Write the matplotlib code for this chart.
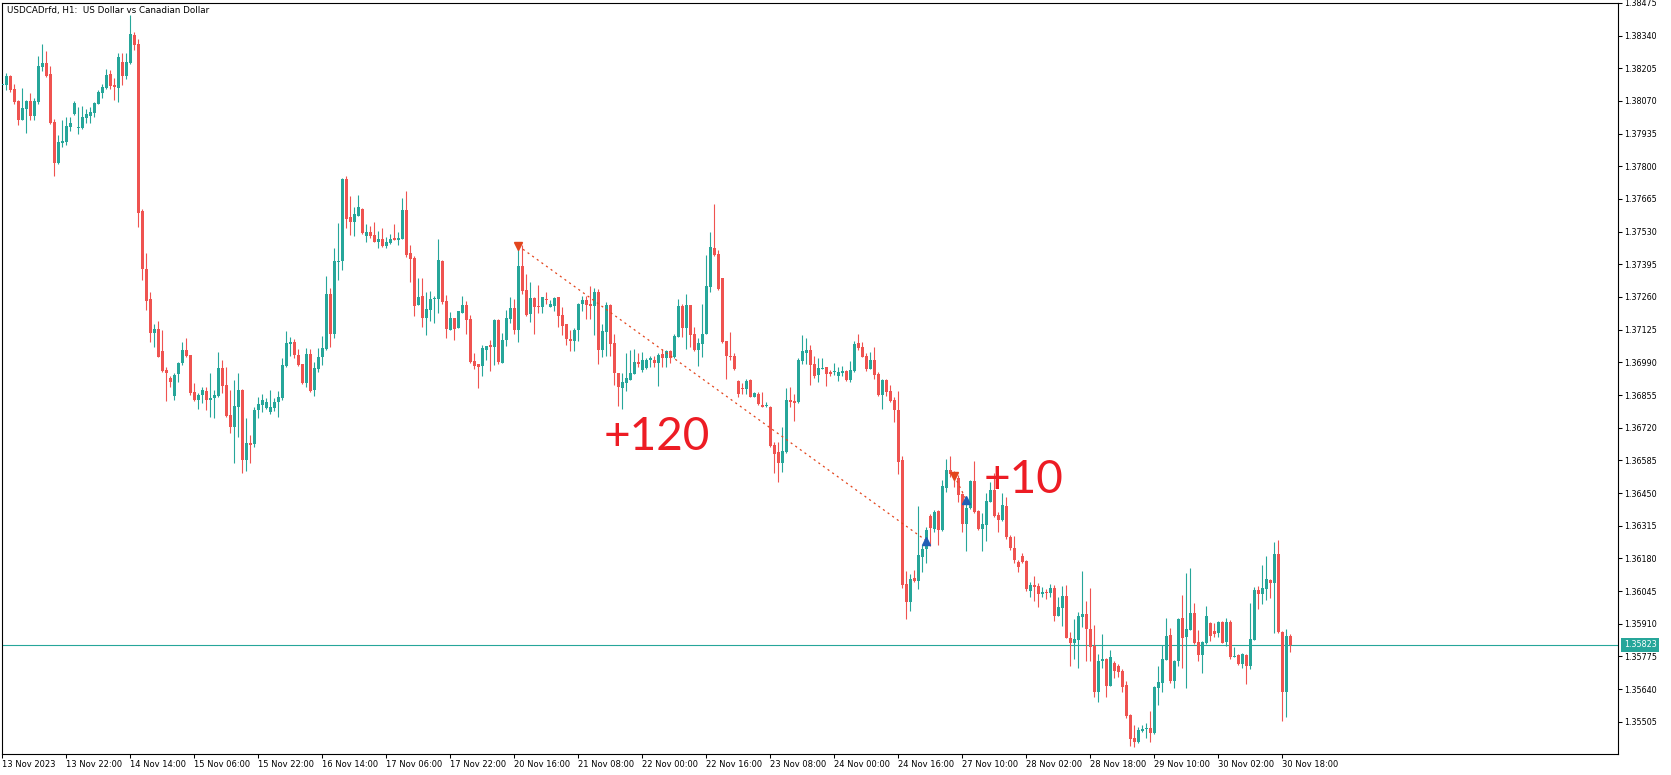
import numpy as np
import matplotlib
matplotlib.use("Agg")
import matplotlib.pyplot as plt
import matplotlib.transforms as mtransforms

plt.rcParams['font.family'] = ['DejaVu Sans']
plt.rcParams['lines.scale_dashes'] = False

title = "USDCADrfd, H1:  US Dollar vs Canadian Dollar"

# hourly OHLC, 13 Nov 06:00 .. 30 Nov 20:00
opens = [
    1.38136, 1.38135, 1.38175, 1.38119, 1.38069, 1.37992, 1.38037, 1.38069, 1.38008, 1.38066,
    1.38212, 1.38226, 1.38181, 1.37982, 1.37812, 1.37897, 1.37900, 1.37963, 1.38015, 1.37957,
    1.37959, 1.38000, 1.38008, 1.38019, 1.38059, 1.38102, 1.38124, 1.38181, 1.38135, 1.38124,
    1.38230, 1.38174, 1.38227, 1.38343, 1.38306, 1.37615, 1.37374, 1.37250, 1.37113, 1.37127,
    1.37036, 1.36958, 1.36926, 1.36852, 1.36941, 1.36987, 1.37040, 1.37020, 1.36866, 1.36834,
    1.36857, 1.36873, 1.36834, 1.36841, 1.36852, 1.36965, 1.36896, 1.36772, 1.36724, 1.36806,
    1.36875, 1.36586, 1.36655, 1.36652, 1.36793, 1.36813, 1.36802, 1.36786, 1.36802, 1.36827,
    1.36844, 1.36976, 1.37067, 1.37073, 1.37020, 1.36983, 1.36905, 1.37024, 1.36875, 1.36962,
    1.37010, 1.37046, 1.37274, 1.37108, 1.37405, 1.37409, 1.37747, 1.37590, 1.37571, 1.37595,
    1.37623, 1.37513, 1.37528, 1.37515, 1.37488, 1.37499, 1.37471, 1.37485, 1.37503, 1.37496,
    1.37500, 1.37619, 1.37440, 1.37420, 1.37228, 1.37263, 1.37174, 1.37207, 1.37250, 1.37252,
    1.37408, 1.37243, 1.37124, 1.37173, 1.37133, 1.37195, 1.37226, 1.37168, 1.36995, 1.36983,
    1.36976, 1.37042, 1.37061, 1.37054, 1.37164, 1.36989, 1.37082, 1.37170, 1.37214, 1.37124,
    1.37387, 1.37288, 1.37189, 1.37257, 1.37222, 1.37217, 1.37248, 1.37219, 1.37224, 1.37259,
    1.37185, 1.37148, 1.37087, 1.37079, 1.37124, 1.37229, 1.37247, 1.37229, 1.37224, 1.37280,
    1.37040, 1.37116, 1.37226, 1.37068, 1.36945, 1.36883, 1.36904, 1.36919, 1.36943, 1.36991,
    1.36958, 1.36965, 1.36999, 1.36999, 1.36988, 1.37024, 1.37007, 1.37036, 1.37013, 1.37094,
    1.37222, 1.37133, 1.37226, 1.37109, 1.37042, 1.37067, 1.37109, 1.37302, 1.37463, 1.37437,
    1.37338, 1.37078, 1.37017, 1.37017, 1.36914, 1.36881, 1.36878, 1.36917, 1.36848, 1.36861,
    1.36813, 1.36808, 1.36806, 1.36648, 1.36619, 1.36575, 1.36620, 1.36834, 1.36830, 1.36827,
    1.36996, 1.37029, 1.37040, 1.36983, 1.36936, 1.36963, 1.36969, 1.36951, 1.36948, 1.36934,
    1.36947, 1.36954, 1.36919, 1.36955, 1.37068, 1.37054, 1.37018, 1.36963, 1.36999, 1.36941,
    1.36855, 1.36917, 1.36871, 1.36834, 1.36795, 1.36586, 1.36074, 1.35999, 1.36100, 1.36086,
    1.36187, 1.36217, 1.36355, 1.36300, 1.36375, 1.36297, 1.36472, 1.36545, 1.36528, 1.36510,
    1.36446, 1.36322, 1.36389, 1.36499, 1.36375, 1.36302, 1.36319, 1.36414, 1.36462, 1.36359,
    1.36338, 1.36397, 1.36269, 1.36224, 1.36166, 1.36190, 1.36170, 1.36046, 1.36070, 1.36066,
    1.36031, 1.36041, 1.36038, 1.36057, 1.35943, 1.35976, 1.36024, 1.35852, 1.35831, 1.35844,
    1.35936, 1.35950, 1.35889, 1.35819, 1.35629, 1.35757, 1.35764, 1.35654, 1.35746, 1.35735,
    1.35716, 1.35657, 1.35533, 1.35439, 1.35423, 1.35468, 1.35474, 1.35480, 1.35457, 1.35646,
    1.35666, 1.35761, 1.35863, 1.35675, 1.35757, 1.35932, 1.35856, 1.35885, 1.35954, 1.35834,
    1.35781, 1.35830, 1.35911, 1.35881, 1.35870, 1.35917, 1.35834, 1.35918, 1.35774, 1.35781,
    1.35743, 1.35781, 1.35735, 1.35843, 1.36049, 1.36031, 1.36055, 1.36090, 1.36079, 1.36198,
    1.35877, 1.35629, 1.35859,
]
highs = [
    1.38142, 1.38186, 1.38178, 1.38138, 1.38073, 1.38123, 1.38072, 1.38101, 1.38084, 1.38255,
    1.38306, 1.38276, 1.38215, 1.37996, 1.37929, 1.37993, 1.38002, 1.38003, 1.38070, 1.38044,
    1.38048, 1.38035, 1.38044, 1.38065, 1.38114, 1.38142, 1.38204, 1.38197, 1.38165, 1.38270,
    1.38269, 1.38270, 1.38426, 1.38354, 1.38324, 1.37623, 1.37440, 1.37279, 1.37148, 1.37160,
    1.37123, 1.36972, 1.36933, 1.36944, 1.36992, 1.37073, 1.37089, 1.37022, 1.36906, 1.36862,
    1.36889, 1.36886, 1.36944, 1.36875, 1.37034, 1.36999, 1.36972, 1.36875, 1.36917, 1.36944,
    1.36878, 1.36758, 1.36689, 1.36804, 1.36848, 1.36861, 1.36841, 1.36875, 1.36844, 1.36871,
    1.37006, 1.37119, 1.37095, 1.37086, 1.37045, 1.36985, 1.37050, 1.37045, 1.36992, 1.37051,
    1.37098, 1.37346, 1.37297, 1.37462, 1.37566, 1.37751, 1.37759, 1.37678, 1.37632, 1.37681,
    1.37626, 1.37561, 1.37553, 1.37569, 1.37533, 1.37543, 1.37507, 1.37520, 1.37561, 1.37528,
    1.37668, 1.37697, 1.37474, 1.37431, 1.37339, 1.37339, 1.37280, 1.37284, 1.37266, 1.37499,
    1.37412, 1.37268, 1.37197, 1.37175, 1.37203, 1.37263, 1.37243, 1.37185, 1.37029, 1.36985,
    1.37061, 1.37057, 1.37082, 1.37168, 1.37170, 1.37111, 1.37206, 1.37259, 1.37251, 1.37470,
    1.37474, 1.37357, 1.37320, 1.37258, 1.37309, 1.37261, 1.37279, 1.37247, 1.37261, 1.37261,
    1.37219, 1.37150, 1.37123, 1.37131, 1.37237, 1.37263, 1.37263, 1.37305, 1.37297, 1.37294,
    1.37149, 1.37239, 1.37233, 1.37109, 1.36947, 1.36947, 1.37027, 1.37040, 1.37045, 1.37027,
    1.37034, 1.37006, 1.37017, 1.37017, 1.37027, 1.37045, 1.37043, 1.37040, 1.37109, 1.37250,
    1.37233, 1.37272, 1.37228, 1.37134, 1.37089, 1.37233, 1.37433, 1.37528, 1.37644, 1.37453,
    1.37340, 1.37080, 1.37115, 1.37027, 1.36917, 1.36906, 1.36922, 1.36923, 1.36866, 1.36866,
    1.36868, 1.36827, 1.36809, 1.36662, 1.36659, 1.36724, 1.36882, 1.36889, 1.36861, 1.37006,
    1.37102, 1.37089, 1.37061, 1.37016, 1.37006, 1.37009, 1.36972, 1.36958, 1.36988, 1.36972,
    1.36974, 1.36958, 1.36996, 1.37079, 1.37107, 1.37075, 1.37027, 1.37034, 1.37054, 1.36951,
    1.36923, 1.36923, 1.36896, 1.36848, 1.36872, 1.36603, 1.36129, 1.36115, 1.36132, 1.36396,
    1.36234, 1.36311, 1.36362, 1.36380, 1.36380, 1.36503, 1.36589, 1.36603, 1.36541, 1.36524,
    1.36451, 1.36435, 1.36503, 1.36583, 1.36378, 1.36366, 1.36448, 1.36495, 1.36531, 1.36373,
    1.36448, 1.36435, 1.36276, 1.36272, 1.36173, 1.36203, 1.36173, 1.36083, 1.36107, 1.36077,
    1.36063, 1.36052, 1.36074, 1.36068, 1.36022, 1.36067, 1.36070, 1.35877, 1.35928, 1.35960,
    1.36128, 1.36002, 1.36057, 1.35904, 1.35783, 1.35867, 1.35767, 1.35801, 1.35757, 1.35743,
    1.35721, 1.35675, 1.35535, 1.35491, 1.35482, 1.35491, 1.35498, 1.35551, 1.35652, 1.35735,
    1.35822, 1.35932, 1.35893, 1.35760, 1.35932, 1.36028, 1.36118, 1.36140, 1.35994, 1.35885,
    1.35838, 1.35983, 1.35918, 1.35914, 1.35921, 1.35921, 1.35932, 1.35925, 1.35815, 1.35783,
    1.35787, 1.35783, 1.35997, 1.36063, 1.36067, 1.36152, 1.36189, 1.36093, 1.36247, 1.36256,
    1.35881, 1.35888, 1.35867,
]
lows = [
    1.38134, 1.38114, 1.38105, 1.38058, 1.37970, 1.37990, 1.37938, 1.37993, 1.37993, 1.38058,
    1.38192, 1.38171, 1.37974, 1.37761, 1.37809, 1.37879, 1.37886, 1.37946, 1.38012, 1.37933,
    1.37956, 1.37980, 1.37980, 1.38002, 1.38057, 1.38081, 1.38120, 1.38120, 1.38076, 1.38066,
    1.38134, 1.38160, 1.38222, 1.38280, 1.37548, 1.37330, 1.37208, 1.37076, 1.37054, 1.37010,
    1.36948, 1.36830, 1.36889, 1.36834, 1.36910, 1.36978, 1.37013, 1.36855, 1.36830, 1.36798,
    1.36820, 1.36795, 1.36765, 1.36758, 1.36848, 1.36862, 1.36765, 1.36696, 1.36575, 1.36683,
    1.36534, 1.36542, 1.36572, 1.36641, 1.36758, 1.36786, 1.36799, 1.36776, 1.36790, 1.36765,
    1.36834, 1.36972, 1.37017, 1.37009, 1.36976, 1.36900, 1.36889, 1.36868, 1.36852, 1.36950,
    1.36980, 1.37040, 1.37054, 1.37091, 1.37330, 1.37372, 1.37546, 1.37517, 1.37513, 1.37593,
    1.37520, 1.37488, 1.37504, 1.37487, 1.37463, 1.37465, 1.37463, 1.37481, 1.37495, 1.37476,
    1.37498, 1.37426, 1.37323, 1.37182, 1.37225, 1.37137, 1.37104, 1.37162, 1.37153, 1.37195,
    1.37229, 1.37091, 1.37122, 1.37083, 1.37131, 1.37192, 1.37105, 1.36989, 1.36962, 1.36885,
    1.36934, 1.36999, 1.36955, 1.36980, 1.36984, 1.36987, 1.37058, 1.37151, 1.37105, 1.37075,
    1.37272, 1.37181, 1.37156, 1.37107, 1.37192, 1.37192, 1.37233, 1.37217, 1.37203, 1.37137,
    1.37102, 1.37061, 1.37038, 1.37038, 1.37079, 1.37203, 1.37167, 1.37167, 1.37102, 1.36984,
    1.37013, 1.37018, 1.37016, 1.36896, 1.36809, 1.36798, 1.36872, 1.36917, 1.36940, 1.36972,
    1.36951, 1.36961, 1.36972, 1.36970, 1.36893, 1.36972, 1.36972, 1.36988, 1.37009, 1.37093,
    1.37096, 1.37047, 1.37054, 1.37036, 1.36976, 1.37013, 1.37107, 1.37281, 1.37430, 1.37288,
    1.37071, 1.36923, 1.36999, 1.36958, 1.36848, 1.36861, 1.36861, 1.36846, 1.36846, 1.36813,
    1.36804, 1.36805, 1.36641, 1.36534, 1.36497, 1.36538, 1.36614, 1.36804, 1.36749, 1.36824,
    1.36983, 1.36985, 1.36896, 1.36926, 1.36910, 1.36962, 1.36892, 1.36933, 1.36937, 1.36912,
    1.36932, 1.36912, 1.36908, 1.36951, 1.37043, 1.37010, 1.36955, 1.36962, 1.36923, 1.36850,
    1.36797, 1.36850, 1.36827, 1.36744, 1.36528, 1.36056, 1.35928, 1.35962, 1.36083, 1.36055,
    1.36122, 1.36162, 1.36231, 1.36289, 1.36234, 1.36295, 1.36455, 1.36517, 1.36476, 1.36414,
    1.36289, 1.36212, 1.36382, 1.36369, 1.36296, 1.36212, 1.36253, 1.36411, 1.36352, 1.36287,
    1.36334, 1.36262, 1.36214, 1.36159, 1.36125, 1.36162, 1.36046, 1.36022, 1.36005, 1.35980,
    1.36019, 1.36010, 1.36022, 1.35921, 1.35942, 1.35900, 1.35851, 1.35735, 1.35764, 1.35727,
    1.35898, 1.35757, 1.35757, 1.35608, 1.35588, 1.35728, 1.35606, 1.35652, 1.35687, 1.35691,
    1.35629, 1.35522, 1.35406, 1.35402, 1.35418, 1.35464, 1.35436, 1.35423, 1.35454, 1.35574,
    1.35629, 1.35760, 1.35666, 1.35646, 1.35735, 1.35725, 1.35646, 1.35884, 1.35826, 1.35757,
    1.35705, 1.35826, 1.35838, 1.35853, 1.35853, 1.35829, 1.35818, 1.35765, 1.35771, 1.35739,
    1.35728, 1.35661, 1.35724, 1.35843, 1.35971, 1.35991, 1.36008, 1.36015, 1.35873, 1.35873,
    1.35508, 1.35526, 1.35793,
]
closes = [
    1.38139, 1.38175, 1.38114, 1.38066, 1.37992, 1.38040, 1.38069, 1.38008, 1.38070, 1.38214,
    1.38227, 1.38174, 1.37980, 1.37814, 1.37900, 1.37904, 1.37966, 1.37978, 1.38061, 1.37963,
    1.38004, 1.38015, 1.38025, 1.38061, 1.38106, 1.38127, 1.38176, 1.38131, 1.38128, 1.38251,
    1.38174, 1.38230, 1.38346, 1.38303, 1.37609, 1.37374, 1.37244, 1.37113, 1.37127, 1.37013,
    1.36955, 1.36947, 1.36910, 1.36937, 1.36987, 1.37040, 1.37017, 1.36864, 1.36834, 1.36855,
    1.36875, 1.36834, 1.36844, 1.36855, 1.36965, 1.36893, 1.36769, 1.36724, 1.36809, 1.36875,
    1.36586, 1.36655, 1.36648, 1.36795, 1.36816, 1.36834, 1.36828, 1.36805, 1.36828, 1.36846,
    1.36978, 1.37069, 1.37075, 1.37020, 1.36980, 1.36905, 1.37024, 1.36872, 1.36965, 1.37012,
    1.37049, 1.37274, 1.37109, 1.37408, 1.37408, 1.37747, 1.37583, 1.37571, 1.37602, 1.37631,
    1.37525, 1.37528, 1.37511, 1.37488, 1.37499, 1.37470, 1.37487, 1.37499, 1.37496, 1.37504,
    1.37619, 1.37434, 1.37418, 1.37224, 1.37259, 1.37174, 1.37210, 1.37251, 1.37255, 1.37412,
    1.37240, 1.37129, 1.37173, 1.37129, 1.37202, 1.37228, 1.37164, 1.36992, 1.36976, 1.36972,
    1.37049, 1.37056, 1.37054, 1.37164, 1.36991, 1.37084, 1.37174, 1.37214, 1.37124, 1.37387,
    1.37286, 1.37185, 1.37254, 1.37219, 1.37217, 1.37259, 1.37246, 1.37230, 1.37257, 1.37182,
    1.37140, 1.37087, 1.37079, 1.37124, 1.37230, 1.37247, 1.37228, 1.37224, 1.37281, 1.37040,
    1.37119, 1.37226, 1.37065, 1.36945, 1.36889, 1.36908, 1.36926, 1.36945, 1.36991, 1.36985,
    1.37001, 1.36999, 1.37007, 1.36988, 1.37020, 1.37007, 1.37035, 1.37009, 1.37098, 1.37222,
    1.37133, 1.37226, 1.37104, 1.37040, 1.37069, 1.37109, 1.37305, 1.37465, 1.37433, 1.37292,
    1.37075, 1.37017, 1.37014, 1.36962, 1.36860, 1.36878, 1.36914, 1.36848, 1.36864, 1.36816,
    1.36805, 1.36810, 1.36645, 1.36611, 1.36575, 1.36623, 1.36834, 1.36826, 1.36824, 1.36999,
    1.37035, 1.37040, 1.36981, 1.36933, 1.36965, 1.36965, 1.36941, 1.36940, 1.36954, 1.36950,
    1.36954, 1.36917, 1.36958, 1.37065, 1.37050, 1.37013, 1.36963, 1.36999, 1.36937, 1.36855,
    1.36917, 1.36868, 1.36831, 1.36793, 1.36579, 1.36070, 1.35999, 1.36094, 1.36086, 1.36194,
    1.36217, 1.36297, 1.36304, 1.36373, 1.36297, 1.36479, 1.36545, 1.36528, 1.36506, 1.36441,
    1.36322, 1.36389, 1.36499, 1.36370, 1.36300, 1.36322, 1.36417, 1.36462, 1.36355, 1.36338,
    1.36400, 1.36267, 1.36221, 1.36173, 1.36143, 1.36166, 1.36052, 1.36070, 1.36063, 1.36031,
    1.36041, 1.36035, 1.36056, 1.35943, 1.35977, 1.36024, 1.35852, 1.35831, 1.35847, 1.35942,
    1.35950, 1.35889, 1.35815, 1.35629, 1.35756, 1.35764, 1.35654, 1.35772, 1.35716, 1.35712,
    1.35650, 1.35529, 1.35435, 1.35423, 1.35471, 1.35474, 1.35475, 1.35457, 1.35650, 1.35668,
    1.35764, 1.35859, 1.35675, 1.35757, 1.35929, 1.35852, 1.35888, 1.35954, 1.35829, 1.35781,
    1.35834, 1.35942, 1.35860, 1.35867, 1.35917, 1.35831, 1.35918, 1.35771, 1.35776, 1.35743,
    1.35785, 1.35735, 1.35845, 1.36049, 1.36031, 1.36057, 1.36093, 1.36079, 1.36198, 1.35877,
    1.35629, 1.35859, 1.35823,
]

time_labels = [
    "13 Nov 2023", "13 Nov 22:00", "14 Nov 14:00", "15 Nov 06:00", "15 Nov 22:00",
    "16 Nov 14:00", "17 Nov 06:00", "17 Nov 22:00", "20 Nov 16:00", "21 Nov 08:00",
    "22 Nov 00:00", "22 Nov 16:00", "23 Nov 08:00", "24 Nov 00:00", "24 Nov 16:00",
    "27 Nov 10:00", "28 Nov 02:00", "28 Nov 18:00", "29 Nov 10:00", "30 Nov 02:00",
    "30 Nov 18:00",
]
bars_per_label = 16

price_ticks = [
    1.35505, 1.35640, 1.35775, 1.35910, 1.36045, 1.36180, 1.36315, 1.36450,
    1.36585, 1.36720, 1.36855, 1.36990, 1.37125, 1.37260, 1.37395, 1.37530,
    1.37665, 1.37800, 1.37935, 1.38070, 1.38205, 1.38340, 1.38475,
]
bid = 1.35823

# two short trades: sell entry -> buy close
sell_bars = [129, 238]
sell_prices = [1.37471, 1.36521]
exit_bars = [231, 241]
exit_prices = [1.36253, 1.36421]

# hand-written notes
notes = ["+120", "+10"]
note_bars = [150.2, 245.2]
note_prices = [1.36627, 1.36448]

GREEN = "#26a69a"
RED = "#ef5350"
SELL = "#e3451d"
BLUE = "#1f5fb5"
PAINT = "#ed1c24"

W, H = 1671, 775
fig = plt.figure(figsize=(W / 100, H / 100), dpi=100)
ax = fig.add_axes([2 / W, 21 / H, 1616.3 / W, 751.3 / H])

o = np.array(opens)
hi = np.array(highs)
lo = np.array(lows)
c = np.array(closes)
x = np.arange(len(c))
cols = np.where(c >= o, GREEN, RED)

ax.axhline(bid, color=GREEN, lw=0.8, zorder=1)
ax.vlines(x, lo, hi, colors=cols, linewidth=0.8, zorder=2)
body = np.maximum(np.abs(c - o), 0.00004)
ax.bar(x, body, bottom=np.minimum(o, c), width=0.75, color=cols, linewidth=0, zorder=3)

for sb, sp, eb, ep in zip(sell_bars, sell_prices, exit_bars, exit_prices):
    ax.plot([sb, eb], [sp, ep], color=SELL, lw=0.9, dashes=(1.5, 2.6), zorder=4)
ax.plot(sell_bars, sell_prices, ls="none", marker="v", ms=5.5, color=SELL, zorder=5)
ax.plot(exit_bars, exit_prices, ls="none", marker="^", ms=5.5, color=BLUE, zorder=5)

for txt, nb, npr in zip(notes, note_bars, note_prices):
    ax.text(nb, npr, txt, color=PAINT, fontsize=33, family=["Lato", "Liberation Sans"],
            fontweight="normal", ha="left", va="baseline", zorder=6)

ax.set_xlim(-0.1, 404)
ax.set_ylim(1.353716, 1.38476)

ax.yaxis.tick_right()
ax.set_yticks(price_ticks)
ax.set_yticklabels([f"{p:.5f}" for p in price_ticks])
ax.tick_params(axis="y", direction="out", length=3, width=0.75, pad=1.2,
               labelsize=5.8, colors="black")

ax.set_xticks(np.arange(len(time_labels)) * bars_per_label)
ax.set_xticklabels(time_labels)
ax.tick_params(axis="x", direction="out", length=3, width=0.75, pad=1.0,
               labelsize=6.0, colors="black")
for lab in ax.get_xticklabels():
    lab.set_horizontalalignment("left")

for sp in ax.spines.values():
    sp.set_color("black")
    sp.set_linewidth(0.8)

trans = mtransforms.blended_transform_factory(ax.transAxes, ax.transData)
ax.annotate(f"{bid:.5f}", xy=(1, bid), xycoords=trans, xytext=(4.0, 0),
            textcoords="offset points", ha="left", va="center", fontsize=5.8,
            color="white", annotation_clip=False,
            bbox=dict(boxstyle="square,pad=0.3", fc=GREEN, ec="none"))

fig.text(6.7 / W, 1 - 12.7 / H, title, fontsize=6.3, ha="left", va="baseline")

fig.savefig("out.png", dpi=100)
